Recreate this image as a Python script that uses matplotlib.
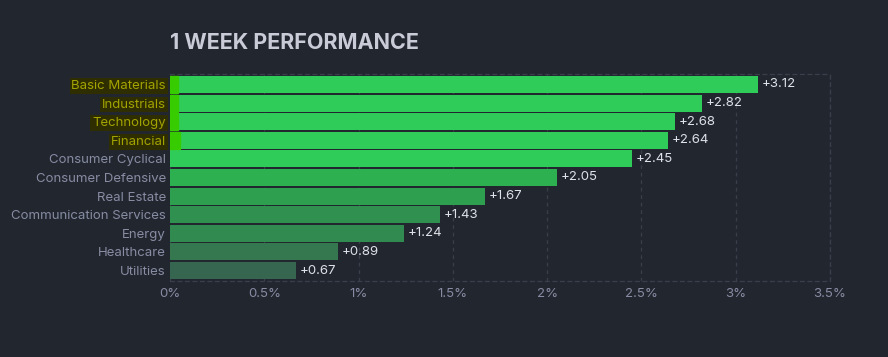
import matplotlib.pyplot as plt
from matplotlib.patches import Rectangle
import matplotlib.transforms as mtransforms

plt.rcParams['font.family'] = ['Inter', 'DejaVu Sans']

# data
sectors = ['Basic Materials', 'Industrials', 'Technology', 'Financial', 'Consumer Cyclical',
           'Consumer Defensive', 'Real Estate', 'Communication Services', 'Energy',
           'Healthcare', 'Utilities']
perf = [3.12, 2.82, 2.68, 2.64, 2.45, 2.05, 1.67, 1.43, 1.24, 0.89, 0.67]
colors = ['#30cc5a', '#30cc5a', '#30cc5a', '#30cc5a', '#30cc5a', '#2db04f',
          '#2e9e4f', '#30904f', '#318a4f', '#35784f', '#376650']
highlighted = ['Basic Materials', 'Industrials', 'Technology', 'Financial']
xticks = [0, 0.5, 1, 1.5, 2, 2.5, 3, 3.5]
xticklabels = ['0%', '0.5%', '1%', '1.5%', '2%', '2.5%', '3%', '3.5%']

bg = '#22262f'
fig = plt.figure(figsize=(8.88, 3.57), dpi=100, facecolor=bg)
ax = fig.add_axes([170/888, 1-281/357, 660/888, 207/357], facecolor=bg)

y = list(range(len(sectors)))
ax.barh(y, perf, height=0.91, color=colors, zorder=2)

for i, v in enumerate(perf):
    ax.text(v + 0.02, i, f'+{v:.2f}', va='center', ha='left', color='#dfe1e8', fontsize=9.5, zorder=3)

ax.set_xlim(0, 3.5)
ax.set_ylim(len(sectors) - 0.437, -0.563)
ax.set_xticks(xticks)
ax.set_xticklabels(xticklabels)
ax.set_yticks(y)
ax.set_yticklabels(sectors)
ax.tick_params(axis='both', length=0, colors='#878ca3', labelsize=9.5)
ax.tick_params(axis='y', pad=3)
ax.tick_params(axis='x', pad=5)

ax.grid(axis='x', color='#3a3e4b', linestyle=(0, (3, 3)), linewidth=0.9, zorder=0)
for side in ['top', 'right', 'bottom']:
    ax.spines[side].set_color('#3a3e4b')
    ax.spines[side].set_linestyle((0, (3, 3)))
    ax.spines[side].set_linewidth(0.9)
ax.spines['left'].set_visible(False)

# highlighted labels
trans = mtransforms.blended_transform_factory(ax.transData, ax.transData)
for lbl in ax.get_yticklabels():
    if lbl.get_text() in highlighted:
        lbl.set_color('#a3a300')
        lbl.set_bbox(dict(facecolor='#2e2e00', edgecolor='none', pad=1.2))
        i = sectors.index(lbl.get_text())
        w = 0.055 if lbl.get_text() == 'Financial' else 0.042
        ax.add_patch(Rectangle((0, i - 0.455), w, 0.91, color='#36cc00', zorder=2.5, transform=trans))

fig.text(170/888, 1-43/357, '1 WEEK PERFORMANCE', color='#c9cbd6', fontsize=15.5,
         fontweight='bold', va='center', ha='left')

fig.savefig('out.png', dpi=100, facecolor=bg)
